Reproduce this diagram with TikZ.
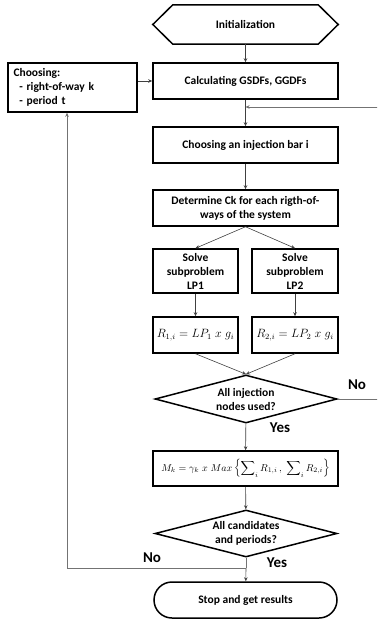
\documentclass[tikz,border=0pt]{standalone}
\usepackage{amsmath}
\usepackage{fontspec}
\setmainfont{Carlito}
\usepackage{tikz}
\usetikzlibrary{arrows.meta,shapes.geometric,shapes.misc}

\tikzset{
  box/.style={draw,line width=1.5pt,minimum width=185pt,minimum height=36pt,inner sep=1pt,align=center,font=\bfseries\fontsize{11.5}{14}\selectfont},
  smallbox/.style={box,minimum width=85pt},
  decision/.style={draw,line width=1.5pt,diamond,aspect=3.8,inner sep=0pt,minimum width=182pt,minimum height=48pt,align=center,font=\bfseries\fontsize{11.5}{14}\selectfont},
  flow/.style={draw=black!75,line width=0.6pt,-{Stealth[length=4pt,width=3.5pt]}},
  back/.style={draw=black!55,line width=0.6pt},
  answer/.style={font=\bfseries\fontsize{15}{17}\selectfont}
}

\begin{document}
\begin{tikzpicture}[x=1pt,y=-1pt]
\useasboundingbox (0,0) rectangle (377,620);
\clip (0,0) rectangle (377,620);

\node (init) at (245.5,24.5) [font=\bfseries\fontsize{11.5}{14}\selectfont,minimum width=145pt,minimum height=39pt] {Initialization};
\draw[line width=1.5pt] (init.north west) -- (init.north east) -- ([xshift=20pt]init.east)
  -- (init.south east) -- (init.south west) -- ([xshift=-20pt]init.west) -- cycle;

\node (choose) at (72.5,87.5) [box,minimum width=129pt,minimum height=49pt,align=left,text width=118pt] {Choosing:\\\ \,- right-of-way k\\\ \,- period t};
\node (calc) at (245.5,81) [box] {Calculating GSDFs, GGDFs};
\node (inj) at (245.5,145) [box] {Choosing an injection bar i};
\node (detck) at (245.5,208) [box] {Determine Ck for each rigth-of-\\ways of the system};

\node (lp1) at (195.5,271) [smallbox,minimum height=44pt] {Solve\\subproblem\\LP1};
\node (lp2) at (295,271) [smallbox,minimum width=86pt,minimum height=44pt] {Solve\\subproblem\\LP2};
\node (r1) at (195.5,335) [smallbox,font=\fontsize{11.5}{14}\selectfont] {$R_{1,i} = LP_1\;x\;g_i$};
\node (r2) at (295,335) [smallbox,minimum width=86pt,font=\fontsize{11.5}{14}\selectfont] {$R_{2,i} = LP_2\;x\;g_i$};

\node (used) at (246,399) [decision] {All injection\\nodes used?};
\node (mk) at (245.5,468.5) [box,minimum height=35pt,font=\fontsize{10}{12}\selectfont] {$M_k = \gamma_k\;x\;Max\left\{\displaystyle\sum\nolimits_i R_{1,i}\,,\;\sum\nolimits_i R_{2,i}\right\}$};
\node (cand) at (246,533.5) [decision,minimum height=47pt] {All candidates\\and periods?};
\node (stop) at (245.5,600) [box,rounded rectangle] {Stop and get results};

\coordinate (loop) at (calc.south |- 0,107);
\coordinate (join) at (246,568);
\coordinate (left) at (67,568);

\draw[flow] (init) -- (calc);
\draw[flow] (calc.west -| choose.east) -- (calc.west);
\draw[flow] (calc) -- (inj);
\draw[flow] (inj) -- (detck);
\draw[flow] (detck.south) -- (lp1.north);
\draw[flow] (detck.south) -- (lp2.north);
\draw[flow] (lp1) -- (r1);
\draw[flow] (lp2) -- (r2);
\draw[flow] (r1.south) -- (used.north);
\draw[flow] (r2.south) -- (used.north);
\draw[flow] (used) -- (mk);
\draw[flow] (mk) -- (cand);
\draw[back] (cand.south) -- (join);
\draw[flow] (join) -- (stop);
\draw[back,-{Stealth[length=4pt,width=3.5pt]}] (join) -- (left) -- (left |- choose.south);
\draw[back,-{Stealth[length=4pt,width=3.5pt]}] (used.east) -- ++(60,0) |- (loop);

\node (no1) at (357,385) [answer] {No};
\node (yes1) at (280,428) [answer] {Yes};
\node (no2) at (152,558) [answer] {No};
\node (yes2) at (277,563) [answer] {Yes};
\end{tikzpicture}
\end{document}
